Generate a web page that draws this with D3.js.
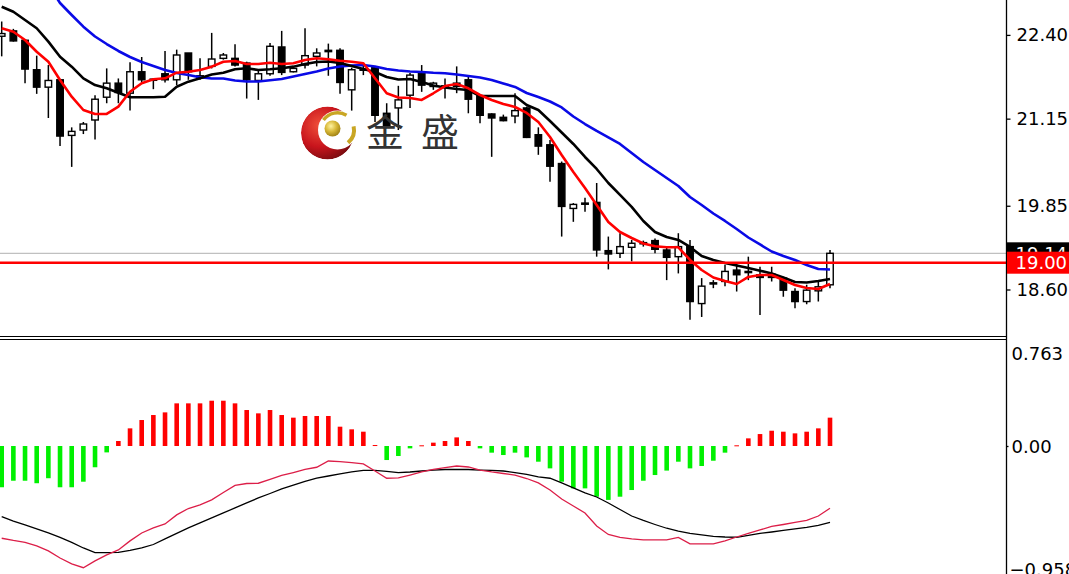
<!DOCTYPE html>
<html><head><meta charset="utf-8">
<script src="https://cdn.jsdelivr.net/npm/d3@7"></script>
<style>html,body{margin:0;padding:0;background:#fff;overflow:hidden}svg{display:block}</style>
</head><body>
<svg id="c" width="1069" height="574"></svg>
<script>
// ---------- data ----------
const opens  = [22.38,22.46,22.32,21.88,21.62,21.73,20.90,20.98,21.13,21.47,21.68,21.53,21.85,21.73,21.82,21.73,22.13,21.76,21.93,22.05,22.05,21.98,21.72,21.82,22.22,21.85,21.95,22.08,22.17,22.17,21.58,21.88,21.91,21.23,21.31,21.50,21.83,21.63,21.62,21.68,21.73,21.49,21.22,21.17,21.19,21.31,20.91,20.76,20.48,19.81,19.88,19.90,19.18,19.14,19.23,19.29,19.33,19.19,19.09,19.24,18.39,18.685,18.72,18.89,18.865,18.82,18.83,18.77,18.57,18.42,18.58,18.67];
const highs  = [22.60,22.49,22.32,22.09,21.95,21.73,21.02,21.10,21.50,21.90,21.75,21.99,22.07,21.75,22.16,22.18,22.13,22.05,22.43,22.13,22.26,22.00,21.88,22.28,22.46,21.93,22.50,22.20,22.27,22.20,21.91,21.98,21.93,21.38,21.64,21.83,21.95,21.70,21.75,21.93,21.78,21.50,21.23,21.21,21.53,21.33,21.02,20.83,20.51,19.89,19.97,20.19,19.39,19.44,19.34,19.33,19.36,19.22,19.44,19.34,18.77,18.74,18.97,18.99,19.09,18.94,18.94,18.79,18.62,18.67,18.74,19.19];
const lows   = [22.08,22.30,21.68,21.52,21.16,20.74,20.43,20.92,20.84,21.38,21.38,21.27,21.68,21.59,21.69,21.65,21.73,21.73,21.90,22.03,21.93,21.45,21.43,21.79,21.80,21.84,21.90,21.93,21.79,21.52,21.27,21.80,21.10,21.01,20.98,21.31,21.55,21.58,21.45,21.53,21.23,21.08,20.58,21.11,21.08,20.86,20.61,20.21,19.39,19.61,19.76,19.09,18.90,19.07,19.02,19.24,19.14,18.74,18.84,18.15,18.19,18.62,18.65,18.57,18.74,18.22,18.72,18.49,18.32,18.38,18.42,18.62];
const closes = [22.42,22.31,21.89,21.62,21.72,20.89,20.96,21.07,21.44,21.68,21.54,21.85,21.73,21.74,21.73,22.10,21.85,21.79,22.04,22.10,21.95,21.73,21.82,22.23,21.84,21.90,22.09,22.13,22.15,21.69,21.88,21.89,21.20,21.05,21.43,21.80,21.65,21.68,21.64,21.63,21.44,21.20,21.16,21.12,21.27,20.87,20.74,20.44,19.84,19.87,19.89,19.19,19.13,19.24,19.29,19.30,19.20,19.08,19.24,18.42,18.65,18.70,18.87,18.82,18.87,18.78,18.78,18.59,18.42,18.59,18.64,19.14];

const maFast = [22.499,22.448,22.324,22.149,22.000,21.727,21.478,21.279,21.220,21.220,21.329,21.552,21.678,21.738,21.752,21.836,21.851,21.876,21.926,22.000,22.011,21.966,21.966,21.985,21.966,21.976,22.026,22.051,22.036,22.015,22.000,21.976,21.752,21.529,21.466,21.458,21.429,21.529,21.637,21.667,21.603,21.503,21.429,21.369,21.324,21.235,21.100,20.876,20.608,20.354,20.115,19.861,19.608,19.458,19.369,19.287,19.245,19.230,19.230,19.041,18.891,18.779,18.727,18.682,18.787,18.817,18.817,18.742,18.667,18.623,18.608,18.682];
const maMid  = [22.821,22.746,22.623,22.499,22.299,22.075,21.926,21.752,21.652,21.603,21.537,21.469,21.469,21.469,21.478,21.627,21.702,21.752,21.809,21.836,21.887,21.902,21.876,21.887,21.902,21.926,21.966,21.996,22.003,21.981,21.936,21.891,21.846,21.772,21.734,21.742,21.697,21.645,21.615,21.593,21.578,21.488,21.488,21.488,21.488,21.354,21.279,21.115,20.943,20.772,20.578,20.399,20.190,20.011,19.832,19.623,19.458,19.384,19.339,19.235,19.100,19.041,18.996,18.958,18.921,18.881,18.839,18.779,18.712,18.705,18.727,18.757];
const maSlow = [null,null,null,null,23.145,22.876,22.697,22.523,22.376,22.264,22.160,22.070,21.996,21.936,21.876,21.832,21.802,21.767,21.749,21.749,21.720,21.705,21.705,21.723,21.742,21.779,21.817,21.854,21.899,21.929,21.943,21.951,21.929,21.891,21.869,21.854,21.846,21.834,21.827,21.809,21.787,21.764,21.727,21.675,21.623,21.533,21.473,21.406,21.317,21.182,21.070,20.966,20.869,20.772,20.637,20.503,20.384,20.264,20.145,19.981,19.861,19.734,19.623,19.503,19.376,19.272,19.167,19.100,19.041,18.966,18.906,18.899];

const histVals = [-0.297,-0.250,-0.250,-0.268,-0.232,-0.297,-0.297,-0.257,-0.153,-0.046,0.036,0.127,0.187,0.223,0.242,0.307,0.307,0.307,0.326,0.326,0.307,0.259,0.235,0.259,0.223,0.204,0.216,0.216,0.216,0.139,0.120,0.103,0.007,-0.101,-0.072,-0.017,0.005,0.024,0.036,0.062,0.036,-0.017,-0.048,-0.065,-0.048,-0.082,-0.113,-0.161,-0.257,-0.305,-0.305,-0.365,-0.388,-0.365,-0.317,-0.250,-0.209,-0.177,-0.113,-0.161,-0.144,-0.106,-0.048,0.005,0.055,0.086,0.110,0.103,0.091,0.103,0.127,0.204];
const macdMain = [-0.664,-0.680,-0.694,-0.719,-0.755,-0.806,-0.849,-0.876,-0.827,-0.784,-0.748,-0.683,-0.626,-0.590,-0.561,-0.496,-0.450,-0.424,-0.388,-0.335,-0.284,-0.270,-0.268,-0.241,-0.212,-0.191,-0.169,-0.153,-0.108,-0.112,-0.119,-0.129,-0.180,-0.232,-0.230,-0.209,-0.187,-0.169,-0.155,-0.144,-0.151,-0.173,-0.187,-0.198,-0.209,-0.234,-0.266,-0.317,-0.381,-0.432,-0.482,-0.576,-0.637,-0.658,-0.669,-0.676,-0.676,-0.676,-0.658,-0.705,-0.705,-0.705,-0.683,-0.655,-0.629,-0.604,-0.579,-0.565,-0.550,-0.536,-0.504,-0.448];
const macdSignal = [-0.509,-0.540,-0.568,-0.597,-0.626,-0.658,-0.694,-0.734,-0.768,-0.768,-0.766,-0.752,-0.734,-0.709,-0.669,-0.629,-0.590,-0.554,-0.518,-0.482,-0.446,-0.410,-0.374,-0.342,-0.309,-0.281,-0.255,-0.232,-0.216,-0.201,-0.187,-0.176,-0.176,-0.183,-0.191,-0.187,-0.180,-0.173,-0.169,-0.168,-0.169,-0.173,-0.176,-0.180,-0.191,-0.205,-0.223,-0.232,-0.266,-0.302,-0.338,-0.367,-0.410,-0.457,-0.504,-0.536,-0.565,-0.592,-0.612,-0.629,-0.640,-0.651,-0.655,-0.657,-0.644,-0.629,-0.619,-0.608,-0.597,-0.586,-0.572,-0.550];

const priceTicks = [22.40, 21.15, 19.85, 18.60];
const macdTicks = [0.763, 0.00, -0.958];
const levelPrice = 19.00;
const logoText = ["金", "盛"];

// ---------- setup ----------
const svg = d3.select("#c");
const W = 1069, H = 574, AX = 1006.5;
const n = closes.length;
const x = d3.scaleLinear().domain([0, n - 1]).range([1.7, 830]);
const y = d3.scaleLinear().domain([18.6, 22.4]).range([289.5, 34.9]);
const yM = d3.scaleLinear().domain([0, 0.763]).range([446, 340]);
const lastPrice = closes[n - 1];
const FONT = "DejaVu Sans, Verdana, sans-serif";

const defs = svg.append("defs");
defs.append("clipPath").attr("id", "clipMain").append("rect").attr("x", 0).attr("y", 0).attr("width", AX).attr("height", 336);
defs.append("clipPath").attr("id", "clipMacd").append("rect").attr("x", 0).attr("y", 340).attr("width", AX).attr("height", H - 340);

svg.append("rect").attr("width", W).attr("height", H).attr("fill", "#fff");

// ---------- main panel ----------
const gMain = svg.append("g").attr("clip-path", "url(#clipMain)");
// bid line
gMain.append("line").attr("x1", 0).attr("x2", AX).attr("y1", y(lastPrice)).attr("y2", y(lastPrice))
  .attr("stroke", "#c0c0c0").attr("stroke-width", 1.3);

const idx = d3.range(n);
const bw = 6.5;
// wicks
gMain.append("g").selectAll("line").data(idx).join("line")
  .attr("x1", i => x(i)).attr("x2", i => x(i))
  .attr("y1", i => y(highs[i])).attr("y2", i => y(lows[i]))
  .attr("stroke", "#000").attr("stroke-width", 1.5);
// bodies
gMain.append("g").selectAll("rect").data(idx).join("rect")
  .attr("x", i => x(i) - bw / 2)
  .attr("y", i => y(Math.max(opens[i], closes[i])))
  .attr("width", bw)
  .attr("height", i => Math.max(1.2, Math.abs(y(opens[i]) - y(closes[i]))))
  .attr("fill", i => closes[i] >= opens[i] ? "#fff" : "#000")
  .attr("stroke", "#000").attr("stroke-width", 1.4);

// moving averages
const lineGen = d3.line().defined(d => d != null).x((d, i) => x(i)).y(d => y(d)).curve(d3.curveLinear);
gMain.append("path").datum(maSlow).attr("d", lineGen).attr("fill", "none").attr("stroke", "#0a0ae6").attr("stroke-width", 2.6).attr("stroke-linejoin", "round");
gMain.append("path").datum(maMid).attr("d", lineGen).attr("fill", "none").attr("stroke", "#000").attr("stroke-width", 2.6).attr("stroke-linejoin", "round");
gMain.append("path").datum(maFast).attr("d", lineGen).attr("fill", "none").attr("stroke", "#f00").attr("stroke-width", 2.6).attr("stroke-linejoin", "round");

// level line
gMain.append("line").attr("x1", 0).attr("x2", AX).attr("y1", y(levelPrice)).attr("y2", y(levelPrice))
  .attr("stroke", "#f00").attr("stroke-width", 2.4);

// ---------- logo ----------
const rg = defs.append("radialGradient").attr("id", "redG").attr("cx", "35%").attr("cy", "35%").attr("r", "75%");
rg.append("stop").attr("offset", "0%").attr("stop-color", "#f0503a");
rg.append("stop").attr("offset", "55%").attr("stop-color", "#c8141c");
rg.append("stop").attr("offset", "100%").attr("stop-color", "#6e0a0e");
const gg = defs.append("radialGradient").attr("id", "goldG").attr("cx", "40%").attr("cy", "35%").attr("r", "70%");
gg.append("stop").attr("offset", "0%").attr("stop-color", "#fff3a0");
gg.append("stop").attr("offset", "50%").attr("stop-color", "#d8b838");
gg.append("stop").attr("offset", "100%").attr("stop-color", "#9a7c10");
const mask = defs.append("mask").attr("id", "cres");
mask.append("rect").attr("x", 0).attr("y", 0).attr("width", W).attr("height", H).attr("fill", "#000");
mask.append("circle").attr("cx", 327.5).attr("cy", 133).attr("r", 26.5).attr("fill", "#fff");
mask.append("circle").attr("cx", 337.5).attr("cy", 130).attr("r", 19.5).attr("fill", "#000");

const gLogo = svg.append("g");
gLogo.append("circle").attr("cx", 327.5).attr("cy", 133).attr("r", 26.5).attr("fill", "#fff");
gLogo.append("circle").attr("cx", 327.5).attr("cy", 133).attr("r", 26.5).attr("fill", "url(#redG)").attr("mask", "url(#cres)");
const arcG = d3.arc();
gLogo.append("path").attr("transform", "translate(337.5,130)")
  .attr("d", arcG({innerRadius: 15.5, outerRadius: 19, startAngle: -0.95, endAngle: 0.55}))
  .attr("fill", "#c9a624");
gLogo.append("path").attr("transform", "translate(337.5,130)")
  .attr("d", arcG({innerRadius: 14.5, outerRadius: 18.5, startAngle: 1.35, endAngle: 2.45}))
  .attr("fill", "#c9a624");
gLogo.append("circle").attr("cx", 332.5).attr("cy", 128.5).attr("r", 8).attr("fill", "url(#goldG)");
gLogo.selectAll("text").data(logoText).join("text")
  .attr("x", (d, i) => i === 0 ? 366 : 421).attr("y", 146)
  .attr("font-family", "Noto Sans CJK SC, sans-serif").attr("font-size", 38)
  .attr("fill", "#333").text(d => d);

// ---------- MACD panel ----------
const gM = svg.append("g").attr("clip-path", "url(#clipMacd)");
gM.append("g").selectAll("rect").data(idx).join("rect")
  .attr("x", i => x(i) - 2.3).attr("width", 4.6)
  .attr("y", i => Math.min(yM(histVals[i]), yM(0)))
  .attr("height", i => Math.max(1, Math.abs(yM(histVals[i]) - yM(0))))
  .attr("fill", i => histVals[i] >= 0 ? "#f00" : "#00f000");
const mLine = d3.line().x((d, i) => x(i)).y(d => yM(d));
gM.append("path").datum(macdSignal).attr("d", mLine).attr("fill", "none").attr("stroke", "#000").attr("stroke-width", 1.3);
gM.append("path").datum(macdMain).attr("d", mLine).attr("fill", "none").attr("stroke", "#dc1e48").attr("stroke-width", 1.3);

// ---------- frames ----------
svg.append("line").attr("x1", 0).attr("x2", AX).attr("y1", 336.5).attr("y2", 336.5).attr("stroke", "#000").attr("stroke-width", 1);
svg.append("line").attr("x1", 0).attr("x2", AX).attr("y1", 339.5).attr("y2", 339.5).attr("stroke", "#000").attr("stroke-width", 1);
svg.append("line").attr("x1", AX).attr("x2", AX).attr("y1", 0).attr("y2", H).attr("stroke", "#000").attr("stroke-width", 1.3);

// ---------- axes ----------
const axP = svg.append("g").attr("transform", `translate(${AX},0)`)
  .call(d3.axisRight(y).tickValues(priceTicks).tickSize(4).tickPadding(6).tickFormat(d3.format(".2f")));
axP.select(".domain").remove();
axP.selectAll("line").attr("stroke", "#000").attr("stroke-width", 1.3);
axP.selectAll("text").attr("font-family", FONT).attr("font-size", 18).attr("fill", "#000");

const axM = svg.append("g").attr("transform", `translate(${AX},0)`)
  .call(d3.axisRight(yM).tickValues(macdTicks).tickSize(2).tickPadding(3)
    .tickFormat(d => d === 0 ? "0.00" : d3.format(".3f")(d)));
axM.select(".domain").remove();
axM.selectAll("line").attr("stroke", "#000").attr("stroke-width", 1.3).attr("opacity", d => d === 0 ? 1 : 0);
axM.selectAll("text").attr("font-family", FONT).attr("font-size", 18).attr("fill", "#000")
  .attr("dy", d => d > 0 ? "0.32em" : (d < 0 ? "0.32em" : "0.32em"))
  .attr("transform", d => d > 0 ? "translate(0,13.3)" : (d < 0 ? "translate(-2,-9.5)" : "translate(0,0.5)"));

// ---------- price labels on axis ----------
function priceLabel(p, bg) {
  const g = svg.append("g");
  g.append("rect").attr("x", AX + 0.5).attr("y", y(p) - 11).attr("width", W - AX).attr("height", 22).attr("fill", bg);
  g.append("text").attr("x", AX + 9).attr("y", y(p)).attr("dy", "0.36em")
    .attr("font-family", FONT).attr("font-size", 18).attr("fill", "#fff").text(d3.format(".2f")(p));
}
priceLabel(lastPrice, "#000");
priceLabel(levelPrice, "#f00");
</script>
</body></html>
